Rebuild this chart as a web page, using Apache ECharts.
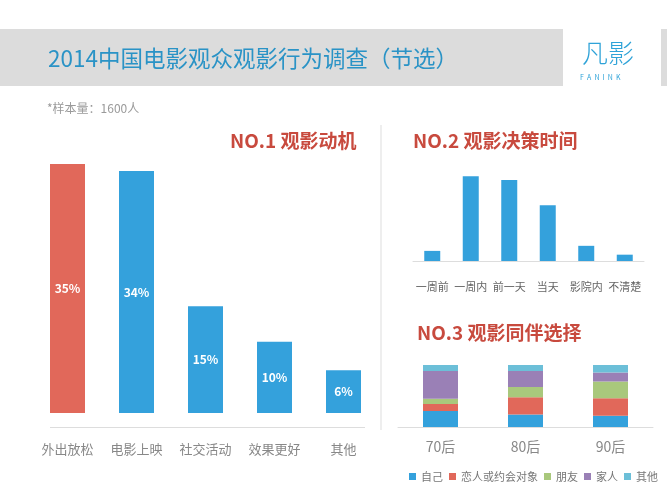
<!DOCTYPE html>
<html>
<head>
<meta charset="utf-8">
<script src="https://cdn.jsdelivr.net/npm/echarts@6/dist/echarts.min.js"></script>
<style>
  html, body { margin: 0; padding: 0; background: #fff; }
  #chart { width: 667px; height: 500px; }
</style>
</head>
<body>
<div id="chart"></div>
<script>
// NO.1 观影动机
var motiveCats = ["外出放松", "电影上映", "社交活动", "效果更好", "其他"];
var motiveVals = [35, 34, 15, 10, 6];

// NO.2 观影决策时间
var timeCats = ["一周前", "一周内", "前一天", "当天", "影院内", "不清楚"];
var timeVals = [4, 33.5, 32, 22, 6, 2.5];

// NO.3 观影同伴选择
var ageCats = ["70后", "80后", "90后"];
var selfVals = [26, 20, 18];
var loverVals = [11, 28, 28.5];
var friendVals = [8.5, 16.5, 27];
var familyVals = [45, 26, 14.5];
var otherVals = [9.5, 9.5, 12];

var FONT = '"Noto Sans CJK SC", "Noto Sans", sans-serif';
var RED = "#E1685A";
var BLUE = "#34A1DC";
var TITLE_RED = "#C84A3E";

var chart = echarts.init(document.getElementById("chart"));

function txt(text, x, y, size, color, weight, extra) {
  var s = {
    text: text, x: x, y: y, fill: color,
    font: (weight || "normal") + " " + size + "px " + FONT,
    verticalAlign: "middle"
  };
  if (extra) for (var k in extra) s[k] = extra[k];
  return { type: "text", style: s, z: 10 };
}

chart.setOption({
  animation: false,
  textStyle: { fontFamily: FONT },
  graphic: [
    // 顶部标题条
    { type: "rect", shape: { x: 0, y: 29, width: 667, height: 57 }, style: { fill: "#DCDCDC" }, z: 0 },
    { type: "rect", shape: { x: 563, y: 22, width: 98, height: 72 }, style: { fill: "#fff" }, z: 1 },
    txt("2014中国电影观众观影行为调查（节选）", 48, 58, 22.5, "#2A93C6"),
    txt("凡影", 582, 53, 26, "#2FA3D8", "200"),
    txt("F  A  N  I  N  K", 580, 77, 7, "#2FA3D8"),
    txt("*样本量：1600人", 47, 108, 12, "#9A9A9A"),
    txt("NO.1 观影动机", 230, 141, 19, TITLE_RED, "bold"),
    txt("NO.2 观影决策时间", 413, 141, 19, TITLE_RED, "bold"),
    txt("NO.3 观影同伴选择", 417, 333, 19, TITLE_RED, "bold"),
    // 分隔线
    { type: "line", shape: { x1: 381, y1: 125, x2: 381, y2: 430 }, style: { stroke: "#DDDDDD", lineWidth: 1 }, z: 1 },
    { type: "line", shape: { x1: 50, y1: 427.5, x2: 365, y2: 427.5 }, style: { stroke: "#DDDDDD", lineWidth: 1 }, z: 1 }
  ],
  legend: {
    data: ["自己", "恋人或约会对象", "朋友", "家人", "其他"],
    left: 404,
    top: 466,
    width: 400,
    icon: "rect",
    itemWidth: 7,
    itemHeight: 7,
    itemGap: 6,
    textStyle: { fontSize: 11, color: "#777" }
  },
  grid: [
    { left: 33, width: 345, top: 164, height: 249 },
    { left: 413, width: 231, top: 175, height: 86 },
    { left: 398, width: 255, top: 365, height: 62 }
  ],
  xAxis: [
    {
      gridIndex: 0, type: "category", data: motiveCats,
      axisLine: { show: false }, axisTick: { show: false },
      axisLabel: { margin: 30, fontSize: 13, color: "#888", interval: 0 }
    },
    {
      gridIndex: 1, type: "category", data: timeCats, offset: 10,
      axisLine: { lineStyle: { color: "#DDDDDD" } }, axisTick: { show: false },
      axisLabel: { margin: 10, fontSize: 11, color: "#666", interval: 0 }
    },
    {
      gridIndex: 2, type: "category", data: ageCats,
      axisLine: { lineStyle: { color: "#DDDDDD" } }, axisTick: { show: false },
      axisLabel: { margin: 13, fontSize: 14, color: "#888", interval: 0 }
    }
  ],
  yAxis: [
    { gridIndex: 0, type: "value", min: 0, max: 35, show: false },
    { gridIndex: 1, type: "value", min: 0, max: 34, show: false },
    { gridIndex: 2, type: "value", min: 0, max: 100, show: false }
  ],
  series: [
    {
      type: "bar", xAxisIndex: 0, yAxisIndex: 0, barWidth: 35,
      data: motiveVals.map(function (v, i) {
        return { value: v, itemStyle: { color: i === 0 ? RED : BLUE } };
      }),
      label: {
        show: true, position: "inside", formatter: "{c}%",
        color: "#fff", fontSize: 12, fontWeight: 600
      }
    },
    {
      type: "bar", xAxisIndex: 1, yAxisIndex: 1, barWidth: 16,
      data: timeVals, itemStyle: { color: BLUE }
    },
    { name: "自己", type: "bar", stack: "c", xAxisIndex: 2, yAxisIndex: 2, barWidth: 35, data: selfVals, itemStyle: { color: BLUE } },
    { name: "恋人或约会对象", type: "bar", stack: "c", xAxisIndex: 2, yAxisIndex: 2, data: loverVals, itemStyle: { color: RED } },
    { name: "朋友", type: "bar", stack: "c", xAxisIndex: 2, yAxisIndex: 2, data: friendVals, itemStyle: { color: "#A9C87C" } },
    { name: "家人", type: "bar", stack: "c", xAxisIndex: 2, yAxisIndex: 2, data: familyVals, itemStyle: { color: "#9A80B6" } },
    { name: "其他", type: "bar", stack: "c", xAxisIndex: 2, yAxisIndex: 2, data: otherVals, itemStyle: { color: "#6CBFD8" } }
  ]
});
</script>
</body>
</html>
